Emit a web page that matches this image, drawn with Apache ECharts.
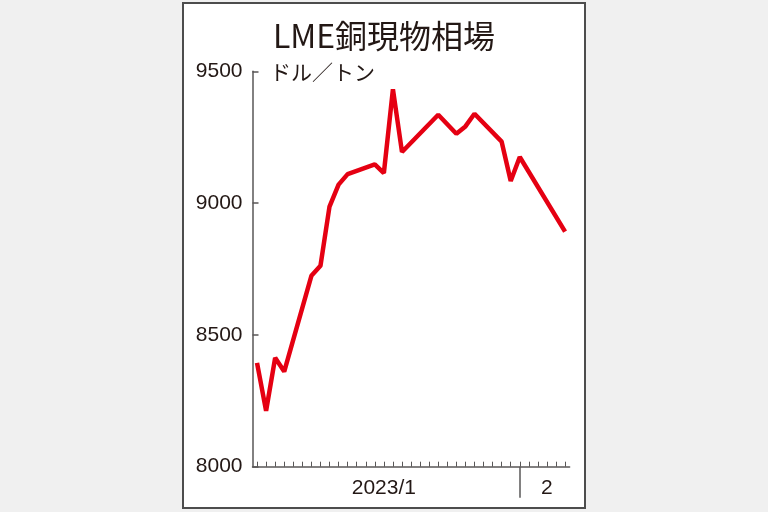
<!DOCTYPE html>
<html>
<head>
<meta charset="utf-8">
<script src="https://cdn.jsdelivr.net/npm/echarts@6/dist/echarts.min.js"></script>
<style>
  html, body { margin: 0; padding: 0; background: #f0f0f0; }
  #frame { position: absolute; left: 182px; top: 2px; width: 400px; height: 503px; border: 2px solid #4d4d4d; background: #ffffff; }
  #chart { position: absolute; left: 0; top: 0; width: 768px; height: 512px; }
</style>
</head>
<body>
<div id="frame"></div>
<div id="chart"></div>
<script>
// point slots along the x axis (one per tick)
const points = Array.from({length: 35}, (_, i) => 'p' + i);
// LME copper cash price (USD/t); null = no vertex (line connects across)
const prices = [
  8394, 8212, 8413, 8361, null, null, 8724, 8762, 8987, 9070,
  9110, null, null, 9147, 9114, 9432, 9194, null, null, null,
  9335, null, 9263, 9291, 9339, null, null, 9233, 9084, 9175,
  null, null, null, null, 8892
];
// x tick labels by slot index
const xTickLabels = {14: '2023/1', 32: '2'};
const monthBoundary = 29;
const yTicks = {min: 8000, max: 9500, step: 500};

const chart = echarts.init(document.getElementById('chart'), null, {renderer: 'canvas'});
const axisGray = '#595757';
const textColor = '#231815';
chart.setOption({
  animation: false,
  backgroundColor: 'transparent',
  title: [
    {text: 'LME銅現物相場', left: 'center', top: 15,
     textStyle: {fontFamily: 'Noto Sans CJK JP', fontWeight: 'normal', fontSize: 32, color: textColor}},
    {text: 'ドル／トン', left: 265, top: 57,
     textStyle: {fontFamily: 'Noto Sans CJK JP', fontWeight: 'normal', fontSize: 21, color: textColor}}
  ],
  grid: {left: 252.5, right: 198.4, top: 71.3, bottom: 45.3, containLabel: false},
  xAxis: [
    {type: 'category', data: points, boundaryGap: true,
     axisLine: {show: true, lineStyle: {color: axisGray, width: 1.5}},
     axisTick: {show: true, inside: true, length: 5, alignWithLabel: true, interval: 0,
                lineStyle: {color: axisGray, width: 1}},
     axisLabel: {show: true, interval: (i) => (i in xTickLabels),
                 formatter: (v, i) => xTickLabels[i] || '',
                 margin: 11, fontSize: 21, color: textColor,
                 fontFamily: 'Liberation Sans'},
     splitLine: {show: false}},
    {type: 'category', data: points, boundaryGap: true, position: 'bottom',
     axisLine: {show: false},
     axisTick: {show: true, inside: false, length: 31, alignWithLabel: true,
                interval: (i) => i === monthBoundary,
                lineStyle: {color: axisGray, width: 1.5}},
     axisLabel: {show: false}, splitLine: {show: false}}
  ],
  yAxis: {
    type: 'value', min: yTicks.min, max: yTicks.max, interval: yTicks.step,
    axisLine: {show: true, lineStyle: {color: axisGray, width: 1.5}},
    axisTick: {show: true, inside: true, length: 6, lineStyle: {color: axisGray, width: 1.5}},
    axisLabel: {margin: 10, fontSize: 21, color: textColor, fontFamily: 'Liberation Sans',
                formatter: (v) => String(v)},
    splitLine: {show: false}
  },
  series: [{
    type: 'line', data: prices, xAxisIndex: 0, connectNulls: true,
    symbol: 'none', lineStyle: {color: '#e50012', width: 4.5}
  }]
});
</script>
</body>
</html>
